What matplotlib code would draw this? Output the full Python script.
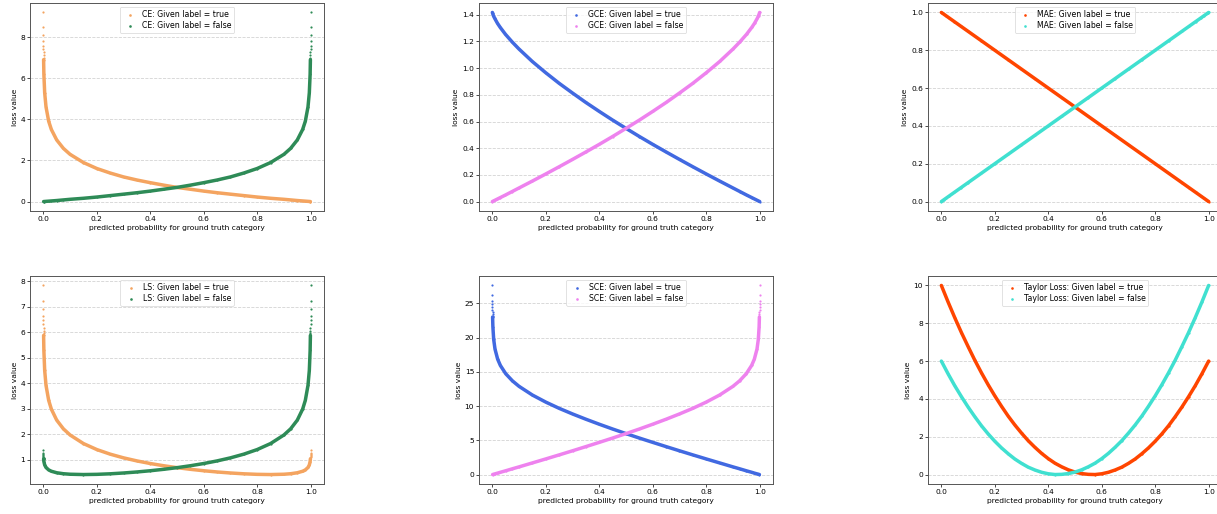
import matplotlib
matplotlib.use('Agg')
from matplotlib import pyplot as plt

# predicted probability grid (shared by the log-type panels)
p = [0.001, 0.002, 0.005, 0.01, 0.02, 0.03, 0.05, 0.075, 0.1, 0.15, 0.2, 0.25,
     0.3, 0.35, 0.4, 0.45, 0.5, 0.55, 0.6, 0.65, 0.7, 0.75, 0.8, 0.85, 0.9,
     0.925, 0.95, 0.97, 0.98, 0.99, 0.995, 0.998, 0.999]

# isolated dots near the ends of the axis
p_low = [0.0001, 0.0002, 0.0003, 0.0004, 0.0005, 0.0006, 0.0007, 0.0008, 0.0009]
p_high = [0.9999, 0.9998, 0.9997, 0.9996, 0.9995, 0.9994, 0.9993, 0.9992, 0.9991]

# CE
ce_true = [6.91, 6.21, 5.30, 4.61, 3.91, 3.51, 3.00, 2.59, 2.30, 1.90, 1.61, 1.39,
           1.20, 1.05, 0.92, 0.80, 0.69, 0.60, 0.51, 0.43, 0.36, 0.29, 0.22, 0.16,
           0.11, 0.08, 0.05, 0.03, 0.02, 0.01, 0.005, 0.002, 0.001]
ce_false = [0.001, 0.002, 0.005, 0.01, 0.02, 0.03, 0.05, 0.08, 0.11, 0.16, 0.22,
            0.29, 0.36, 0.43, 0.51, 0.60, 0.69, 0.80, 0.92, 1.05, 1.20, 1.39, 1.61,
            1.90, 2.30, 2.59, 3.00, 3.51, 3.91, 4.61, 5.30, 6.21, 6.91]
ce_true_tail = [9.21, 8.52, 8.11, 7.82, 7.60, 7.42, 7.26, 7.13, 7.01]
ce_false_tail = [9.21, 8.52, 8.11, 7.82, 7.60, 7.42, 7.26, 7.13, 7.01]

# GCE
gce_true = [1.417, 1.410, 1.393, 1.372, 1.336, 1.306, 1.253, 1.196, 1.144, 1.050,
            0.966, 0.887, 0.814, 0.743, 0.676, 0.611, 0.549, 0.488, 0.429, 0.372,
            0.316, 0.261, 0.207, 0.154, 0.102, 0.076, 0.050, 0.030, 0.020, 0.010,
            0.005, 0.002, 0.001]
gce_false = [0.001, 0.002, 0.005, 0.010, 0.020, 0.030, 0.050, 0.076, 0.102, 0.154,
             0.207, 0.261, 0.316, 0.372, 0.429, 0.488, 0.549, 0.611, 0.676, 0.743,
             0.814, 0.887, 0.966, 1.050, 1.144, 1.196, 1.253, 1.306, 1.336, 1.372,
             1.393, 1.410, 1.417]

# MAE
mae_true = [0.999, 0.998, 0.995, 0.99, 0.98, 0.97, 0.95, 0.925, 0.9, 0.85, 0.8,
            0.75, 0.7, 0.65, 0.6, 0.55, 0.5, 0.45, 0.4, 0.35, 0.3, 0.25, 0.2, 0.15,
            0.1, 0.075, 0.05, 0.03, 0.02, 0.01, 0.005, 0.002, 0.001]
mae_false = [0.001, 0.002, 0.005, 0.01, 0.02, 0.03, 0.05, 0.075, 0.1, 0.15, 0.2,
             0.25, 0.3, 0.35, 0.4, 0.45, 0.5, 0.55, 0.6, 0.65, 0.7, 0.75, 0.8, 0.85,
             0.9, 0.925, 0.95, 0.97, 0.98, 0.99, 0.995, 0.998, 0.999]

# LS
ls_true = [5.872, 5.283, 4.504, 3.916, 3.328, 2.985, 2.554, 2.213, 1.973, 1.637,
           1.402, 1.222, 1.077, 0.957, 0.855, 0.768, 0.693, 0.628, 0.572, 0.524,
           0.484, 0.452, 0.431, 0.423, 0.435, 0.455, 0.493, 0.552, 0.604, 0.699,
           0.799, 0.934, 1.037]
ls_false = [1.037, 0.934, 0.799, 0.699, 0.604, 0.552, 0.493, 0.455, 0.435, 0.423,
            0.431, 0.452, 0.484, 0.524, 0.572, 0.628, 0.693, 0.768, 0.855, 0.957,
            1.077, 1.222, 1.402, 1.637, 1.973, 2.213, 2.554, 2.985, 3.328, 3.916,
            4.504, 5.283, 5.872]
ls_true_low = [7.83, 7.24, 6.89, 6.65, 6.46, 6.31, 6.17, 6.06, 5.96]
ls_true_high = [1.38, 1.28, 1.22, 1.17, 1.14, 1.11, 1.09, 1.07, 1.05]
ls_false_low = [1.38, 1.28, 1.22, 1.17, 1.14, 1.11, 1.09, 1.07, 1.05]
ls_false_high = [7.83, 7.24, 6.89, 6.65, 6.46, 6.31, 6.17, 6.06, 5.96]

# SCE
sce_true = [23.02, 21.62, 19.76, 18.33, 16.85, 15.95, 14.74, 13.70, 12.89, 11.62,
            10.59, 9.68, 8.86, 8.09, 7.36, 6.66, 5.99, 5.34, 4.71, 4.09, 3.48,
            2.88, 2.29, 1.71, 1.13, 0.85, 0.56, 0.34, 0.22, 0.11, 0.06, 0.02, 0.01]
sce_false = [0.01, 0.02, 0.06, 0.11, 0.22, 0.34, 0.56, 0.85, 1.13, 1.71, 2.29,
             2.88, 3.48, 4.09, 4.71, 5.34, 5.99, 6.66, 7.36, 8.09, 8.86, 9.68,
             10.59, 11.62, 12.89, 13.70, 14.74, 15.95, 16.85, 18.33, 19.76, 21.62,
             23.02]
sce_true_tail = [27.63, 26.25, 25.43, 24.85, 24.41, 24.05, 23.73, 23.47, 23.23]
sce_false_tail = [27.63, 26.25, 25.43, 24.85, 24.41, 24.05, 23.73, 23.47, 23.23]

# Taylor (own, even grid)
p_taylor = [0.0, 0.025, 0.05, 0.075, 0.1, 0.125, 0.15, 0.175, 0.2, 0.225, 0.25,
            0.275, 0.3, 0.325, 0.35, 0.375, 0.4, 0.425, 0.45, 0.475, 0.5, 0.525,
            0.55, 0.575, 0.6, 0.625, 0.65, 0.675, 0.7, 0.725, 0.75, 0.775, 0.8,
            0.825, 0.85, 0.875, 0.9, 0.925, 0.95, 0.975, 1.0]
taylor_true = [10.00, 9.13, 8.30, 7.51, 6.77, 6.05, 5.38, 4.75, 4.16, 3.61, 3.09,
               2.62, 2.19, 1.79, 1.44, 1.12, 0.84, 0.60, 0.41, 0.25, 0.13, 0.05,
               0.01, 0.00, 0.04, 0.12, 0.24, 0.39, 0.59, 0.82, 1.10, 1.41, 1.76,
               2.15, 2.58, 3.06, 3.57, 4.12, 4.70, 5.33, 6.00]
taylor_false = [6.00, 5.33, 4.70, 4.12, 3.57, 3.06, 2.58, 2.15, 1.76, 1.41, 1.10,
                0.82, 0.59, 0.39, 0.24, 0.12, 0.04, 0.00, 0.01, 0.05, 0.13, 0.25,
                0.41, 0.60, 0.84, 1.12, 1.44, 1.79, 2.19, 2.62, 3.09, 3.61, 4.16,
                4.75, 5.38, 6.05, 6.77, 7.51, 8.30, 9.13, 10.00]

FS = 5.4
W, H = 1217, 514


def add_ax(fig, left, top):
    # pixel box -> figure fraction
    return fig.add_axes([left / W, 1 - (top + 208) / H, 294 / W, 208 / H])


def draw(ax, name, c_true, c_false, x, y_true, y_false, tail_true=None, tail_false=None):
    xs_t, ys_t = list(x), list(y_true)
    xs_f, ys_f = list(x), list(y_false)
    if tail_true:
        for tx, ty in tail_true:
            xs_t += tx
            ys_t += ty
    if tail_false:
        for tx, ty in tail_false:
            xs_f += tx
            ys_f += ty
    ax.plot(x, y_true, '-', color=c_true, lw=2.5, solid_capstyle='round', zorder=3)
    ax.plot(x, y_false, '-', color=c_false, lw=2.5, solid_capstyle='round', zorder=3)
    ax.scatter(xs_t, ys_t, s=2.5, color=c_true, linewidths=0, zorder=2,
               label=name + ': Given label = true')
    ax.scatter(xs_f, ys_f, s=2.5, color=c_false, linewidths=0, zorder=2,
               label=name + ': Given label = false')
    ax.grid(axis='y', ls='--', color='#d3d3d3', lw=0.6)
    ax.set_axisbelow(True)
    ax.set_ylabel('loss value', fontsize=FS, labelpad=2)
    ax.set_xlabel('predicted probability for ground truth category', fontsize=FS, labelpad=2)
    ax.tick_params(labelsize=FS, length=2, width=0.5, pad=1.5)
    for s in ax.spines.values():
        s.set_color('#555555')
        s.set_linewidth(0.7)
    leg = ax.legend(loc='upper center', fontsize=FS + 0.2, markerscale=1.2,
                    handletextpad=0.5, borderpad=0.35, labelspacing=0.3)
    leg.get_frame().set_linewidth(0.5)


fig = plt.figure(figsize=(W / 100, H / 100), dpi=100)

ax = add_ax(fig, 30, 3)
draw(ax, 'CE', '#F4A460', '#2E8B57', p, ce_true, ce_false,
     [(p_low, ce_true_tail)], [(p_high, ce_false_tail)])

ax = add_ax(fig, 479, 3)
draw(ax, 'GCE', '#4169E1', '#EE82EE', p, gce_true, gce_false)

ax = add_ax(fig, 928, 3)
draw(ax, 'MAE', '#FF4500', '#40E0D0', p, mae_true, mae_false)

ax = add_ax(fig, 30, 276)
draw(ax, 'LS', '#F4A460', '#2E8B57', p, ls_true, ls_false,
     [(p_low, ls_true_low), (p_high, ls_true_high)],
     [(p_low, ls_false_low), (p_high, ls_false_high)])

ax = add_ax(fig, 479, 276)
draw(ax, 'SCE', '#4169E1', '#EE82EE', p, sce_true, sce_false,
     [(p_low, sce_true_tail)], [(p_high, sce_false_tail)])

ax = add_ax(fig, 928, 276)
draw(ax, 'Taylor Loss', '#FF4500', '#40E0D0', p_taylor, taylor_true, taylor_false)

fig.savefig('out.png', dpi=100)
